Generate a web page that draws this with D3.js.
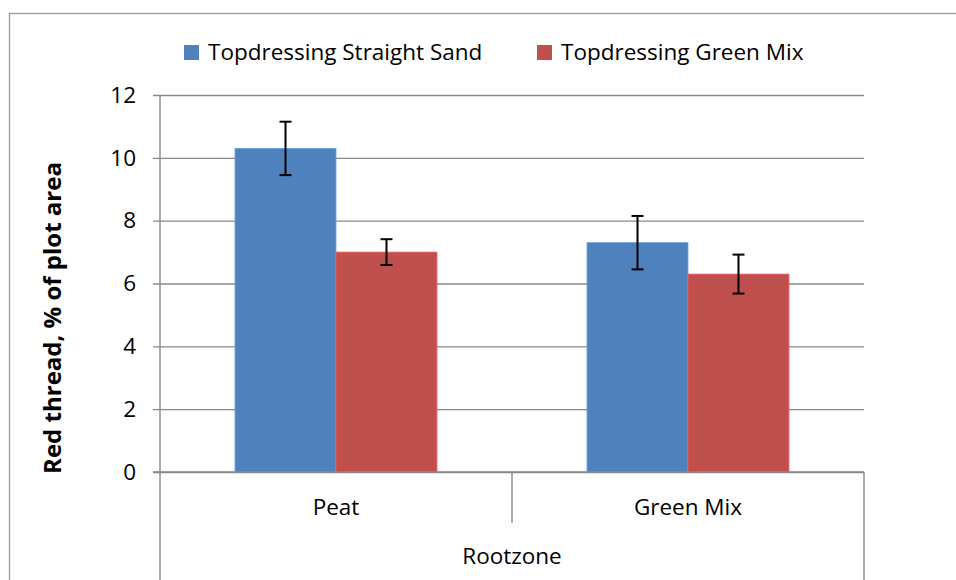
<!DOCTYPE html>
<html><head><meta charset="utf-8">
<script src="https://cdn.jsdelivr.net/npm/d3@7"></script>
<style>
html,body{margin:0;padding:0;background:#fff;}
svg{display:block;font-family:"Open Sans","Liberation Sans",sans-serif;}
</style></head>
<body><svg id="c" width="956" height="580"></svg>
<script>
const categories = ["Peat", "Green Mix"];
const seriesNames = ["Topdressing Straight Sand", "Topdressing Green Mix"];
const straightSand = [10.3, 7.3];
const straightSandErr = [0.85, 0.85];
const greenMix = [7.0, 6.3];
const greenMixErr = [0.41, 0.62];
const yTicks = [0, 2, 4, 6, 8, 10, 12];
const colors = ["#4F81BD", "#C0504D"];
const xTitle = "Rootzone";
const yTitle = "Red thread, % of plot area";

const FONT = "'Open Sans', 'Liberation Sans', sans-serif";
const FS = 22.5;
const svg = d3.select("#c");
const L = 160, R = 864, T = 95, B = 472;
const gridCol = "#898989";

// chart border
svg.append("rect").attr("x", 9.5).attr("y", 13.5).attr("width", 1000).attr("height", 1000)
  .attr("fill", "none").attr("stroke", "#9a9a9a").attr("stroke-width", 1.3);

const y = d3.scaleLinear().domain([0, 12]).range([B, T]);
const x0 = d3.scaleBand().domain(categories).range([L, R]).paddingInner(0).paddingOuter(0);
const x1 = d3.scaleBand().domain(seriesNames).range([0, x0.bandwidth()]).paddingInner(0).paddingOuter(0.743);

// gridlines + y ticks
const yAxis = d3.axisLeft(y).tickValues(yTicks).tickSize(R - L + 7).tickPadding(17).tickFormat(d3.format("d"));
const gy = svg.append("g").attr("transform", `translate(${R},0)`).call(yAxis);
gy.select(".domain").remove();
gy.selectAll(".tick line").attr("stroke", gridCol).attr("stroke-width", 1.4);
gy.selectAll(".tick text").attr("font-size", FS).attr("fill", "#000").attr("font-family", FONT);

// y axis line
svg.append("line").attr("x1", L).attr("x2", L).attr("y1", T).attr("y2", B)
  .attr("stroke", gridCol).attr("stroke-width", 1.4);

// bars
const data = categories.map((c, i) => ({
  cat: c,
  vals: [
    {s: seriesNames[0], v: straightSand[i], e: straightSandErr[i], col: colors[0]},
    {s: seriesNames[1], v: greenMix[i], e: greenMixErr[i], col: colors[1]}
  ]
}));
const grp = svg.append("g").selectAll("g").data(data).join("g")
  .attr("transform", d => `translate(${x0(d.cat)},0)`);
grp.selectAll("rect").data(d => d.vals).join("rect")
  .attr("x", d => x1(d.s)).attr("width", x1.bandwidth())
  .attr("y", d => y(d.v)).attr("height", d => y(0) - y(d.v))
  .attr("fill", d => d.col)
  .attr("stroke", d => d3.color(d.col).brighter(0.6)).attr("stroke-width", 0.8);

// error bars
grp.each(function(d) {
  const g = d3.select(this);
  d.vals.forEach(v => {
    const cx = x1(v.s) + x1.bandwidth() / 2;
    g.append("line").attr("x1", cx).attr("x2", cx).attr("y1", y(v.v + v.e)).attr("y2", y(v.v - v.e))
      .attr("stroke", "#000").attr("stroke-width", 2);
    [v.v + v.e, v.v - v.e].forEach(t => {
      g.append("line").attr("x1", cx - 6).attr("x2", cx + 6).attr("y1", y(t)).attr("y2", y(t))
        .attr("stroke", "#000").attr("stroke-width", 2);
    });
  });
});

// x axis line
svg.append("line").attr("x1", L - 7).attr("x2", R).attr("y1", B).attr("y2", B)
  .attr("stroke", gridCol).attr("stroke-width", 1.4);
// category divider ticks
const bounds = [L].concat(categories.map(c => x0(c) + x0.bandwidth()));
bounds.forEach((bx, i) => {
  const outer = (i === 0 || i === bounds.length - 1);
  svg.append("line").attr("x1", bx).attr("x2", bx).attr("y1", B).attr("y2", outer ? 590 : 523)
    .attr("stroke", gridCol).attr("stroke-width", 1.4);
});
// category labels
svg.append("g").selectAll("text").data(categories).join("text")
  .attr("x", d => x0(d) + x0.bandwidth() / 2).attr("y", 515)
  .attr("text-anchor", "middle").attr("font-size", FS).attr("fill", "#000").text(d => d);
// x title
svg.append("text").attr("x", (L + R) / 2).attr("y", 564).attr("text-anchor", "middle")
  .attr("font-size", FS).attr("fill", "#000").text(xTitle);
// y title
svg.append("text").attr("transform", "translate(61,318) rotate(-90)").attr("text-anchor", "middle")
  .attr("font-size", 24).attr("font-weight", "bold").attr("fill", "#000").text(yTitle);

// legend
const legX = [184, 537];
seriesNames.forEach((s, i) => {
  svg.append("rect").attr("x", legX[i]).attr("y", 45).attr("width", 15).attr("height", 15).attr("fill", colors[i]);
  svg.append("text").attr("x", legX[i] + 24).attr("y", 60).attr("font-size", FS).attr("fill", "#000").text(s);
});
</script></body></html>
